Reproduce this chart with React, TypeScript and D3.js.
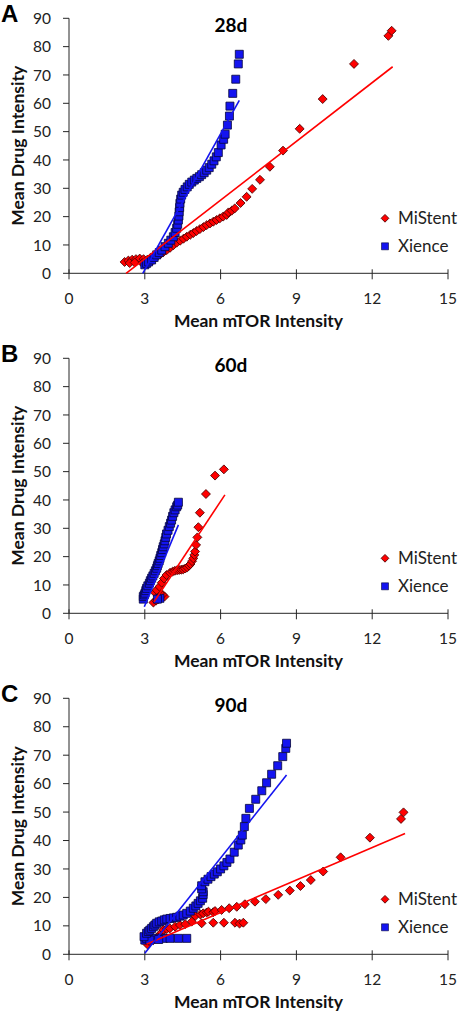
import React from 'react';
import * as d3 from 'd3';

// ---------- data ----------
const xTicks = [0, 3, 6, 9, 12, 15];
const yTicks = [0, 10, 20, 30, 40, 50, 60, 70, 80, 90];
const panelLetters = ['A', 'B', 'C'];
const panelTitles = ['28d', '60d', '90d'];
const seriesNames = ['MiStent', 'Xience'];
const xTitle = 'Mean mTOR Intensity';
const yTitle = 'Mean Drug Intensity';

type P = [number, number];

const mistent28d: P[] = [
  [2.2, 4.0], [2.35, 4.5], [2.5, 4.8], [2.65, 5.0], [2.8, 5.2], [2.95, 5.0], [3.1, 4.8], [3.2, 5.2],
  [3.3, 4.5], [2.4, 3.6], [2.6, 3.8], [2.9, 3.6], [3.3, 5.5], [3.4, 5.8], [3.47, 5.9], [3.6, 6.6],
  [3.73, 7.4], [3.87, 8.2], [4.0, 9.0], [4.13, 9.9], [4.26, 10.8], [4.4, 11.5], [4.53, 12.2],
  [4.66, 12.9], [4.8, 13.6], [4.92, 14.2], [5.05, 14.9], [5.18, 15.6], [5.32, 16.3], [5.45, 17.0],
  [5.58, 17.6], [5.71, 18.2], [5.84, 18.8], [5.97, 19.4], [6.1, 20.0], [6.24, 20.6], [6.31, 21.5],
  [6.44, 22.1], [6.56, 22.9], [6.79, 24.8], [7.03, 27.0], [7.25, 29.8], [7.56, 33.0], [7.95, 37.6],
  [8.47, 43.3], [9.13, 51.0], [10.04, 61.5], [11.28, 73.9], [12.64, 83.8], [12.77, 85.6],
];
const xience28d: P[] = [
  [3.0, 3.0], [3.07, 3.5], [3.15, 4.0], [3.27, 4.7], [3.37, 5.6], [3.47, 6.5], [3.57, 7.3], [3.67, 8.2],
  [3.8, 9.4], [3.93, 10.6], [4.03, 11.7], [4.13, 12.9], [4.2, 14.4], [4.26, 15.9], [4.3, 17.3],
  [4.33, 18.8], [4.35, 20.2], [4.36, 21.7], [4.38, 23.2], [4.39, 24.7], [4.42, 26.2], [4.46, 27.6],
  [4.52, 28.6], [4.59, 29.6], [4.68, 30.5], [4.76, 31.4], [4.86, 32.2], [4.96, 32.9], [5.06, 33.5],
  [5.16, 34.1], [5.25, 34.8], [5.35, 35.5], [5.45, 36.4], [5.55, 37.3], [5.65, 38.5], [5.74, 39.7],
  [5.83, 41.1], [5.91, 42.6], [6.02, 45.3], [6.12, 47.3], [6.18, 49.1], [6.27, 52.3], [6.35, 55.5],
  [6.37, 59.0], [6.48, 63.5], [6.6, 68.5], [6.7, 73.9], [6.74, 77.3],
];
const mistent28dFit: P[] = [[2.26, 0], [12.81, 72.9]];
const xience28dFit: P[] = [[2.92, 0], [6.74, 61.0]];

const mistent60d: P[] = [
  [3.34, 3.8], [3.45, 4.5], [3.55, 5.0], [3.67, 5.5], [3.78, 5.9], [3.7, 6.6], [3.6, 7.1], [3.5, 7.6],
  [3.4, 7.3], [3.47, 8.2], [3.58, 9.4], [3.67, 10.8], [3.76, 12.3], [3.86, 13.5], [4.0, 14.3],
  [4.1, 14.7], [4.19, 15.0], [4.28, 15.2], [4.36, 15.3], [4.44, 15.4], [4.52, 15.5], [4.6, 15.8],
  [4.68, 16.2], [4.75, 16.8], [4.81, 17.4], [4.87, 18.4], [4.92, 19.4], [4.96, 20.6], [4.99, 21.8],
  [5.03, 24.1], [5.08, 26.8], [5.12, 30.4], [5.18, 35.5], [5.42, 42.1], [5.78, 48.6], [6.13, 50.8],
];
const xience60d: P[] = [
  [3.6, 5.3], [3.5, 5.0], [2.94, 5.0], [2.94, 5.9], [2.98, 6.5], [3.01, 7.1], [3.04, 8.0], [3.07, 8.8],
  [3.12, 9.7], [3.18, 10.6], [3.22, 11.5], [3.27, 12.4], [3.32, 13.2], [3.37, 14.1], [3.42, 15.0],
  [3.47, 15.9], [3.5, 16.8], [3.53, 17.6], [3.57, 18.5], [3.6, 19.4], [3.63, 20.4], [3.67, 21.4],
  [3.7, 22.5], [3.73, 23.5], [3.77, 24.5], [3.8, 25.6], [3.83, 26.8], [3.86, 28.0], [3.92, 29.3],
  [3.97, 30.6], [4.02, 31.8], [4.06, 32.9], [4.1, 34.2], [4.15, 35.5], [4.2, 36.5], [4.26, 37.6],
  [4.3, 38.2], [4.33, 39.2],
];
const mistent60dFit: P[] = [[3.36, 4.0], [6.17, 41.8]];
const xience60dFit: P[] = [[2.98, 2.3], [4.33, 31.2]];

const mistent90d: P[] = [
  [3.1, 3.5], [3.2, 4.4], [3.34, 5.0], [3.47, 5.9], [3.6, 6.8], [3.67, 7.7], [3.73, 8.6], [3.87, 8.9],
  [3.99, 9.1], [4.2, 9.7], [4.39, 10.3], [4.6, 10.6], [4.86, 11.5], [5.25, 10.9], [5.71, 11.1],
  [6.13, 11.1], [6.57, 11.1], [6.75, 10.8], [6.9, 11.1], [5.0, 13.5], [5.2, 14.0], [5.31, 14.4],
  [5.45, 14.7], [5.52, 15.0], [5.71, 14.8], [5.78, 15.2], [6.04, 15.6], [6.34, 16.2], [6.64, 16.7],
  [6.96, 17.6], [7.36, 18.5], [7.79, 19.4], [8.28, 20.9], [8.74, 22.4], [9.16, 24.0], [9.57, 26.1],
  [10.06, 29.1], [10.75, 34.1], [11.91, 41.0], [13.14, 47.6], [13.24, 49.9],
];
const xience90d: P[] = [
  [3.0, 5.0], [3.07, 5.6], [3.4, 5.6], [3.73, 5.6], [4.0, 5.6], [4.33, 5.6], [4.66, 5.6], [3.2, 5.0],
  [3.55, 5.2], [2.97, 6.2], [3.07, 7.4], [3.14, 8.0], [3.2, 8.5], [3.27, 9.1], [3.34, 9.7], [3.4, 10.3],
  [3.47, 10.9], [3.57, 11.4], [3.67, 11.7], [3.77, 12.1], [3.87, 12.4], [4.0, 12.6], [4.13, 12.8],
  [4.26, 13.0], [4.39, 13.4], [4.52, 13.8], [4.66, 14.4], [4.8, 15.2], [4.92, 16.2], [5.02, 17.0],
  [5.11, 17.9], [5.2, 18.8], [5.29, 19.7], [5.31, 21.0], [5.31, 22.0], [5.25, 23.0], [5.25, 24.1],
  [5.38, 25.5], [5.5, 26.4], [5.62, 27.3], [5.75, 28.2], [5.87, 29.0], [6.0, 30.0], [6.13, 31.1],
  [6.25, 32.3], [6.37, 33.5], [6.54, 35.9], [6.7, 38.4], [6.8, 40.2], [6.86, 41.9], [6.94, 44.9],
  [7.0, 47.8], [7.14, 51.3], [7.39, 54.5], [7.63, 57.5], [7.82, 60.3], [8.02, 63.3], [8.26, 66.3],
  [8.46, 69.5], [8.58, 72.4], [8.61, 74.2],
];
const mistent90dFit: P[] = [[3.07, 3.5], [13.3, 42.5]];
const xience90dFit: P[] = [[3.0, 0.35], [8.61, 63.0]];

const mistentSets = [mistent28d, mistent60d, mistent90d];
const xienceSets = [xience28d, xience60d, xience90d];
const mistentFits = [mistent28dFit, mistent60dFit, mistent90dFit];
const xienceFits = [xience28dFit, xience60dFit, xience90dFit];

// ---------- layout / style ----------
const W = 459;
const H = 1015;
const PLOT_LEFT = 69;
const PLOT_RIGHT = 448;
const PANEL_TOPS = [18.3, 358.3, 698.3];
const PANEL_BOTTOMS = [273.3, 613.3, 954.3];
const FONT = 'Lato, "Open Sans", sans-serif';
const LETTER_FONT = '"Liberation Sans", Arial, sans-serif';
const RED = '#ff0000';
const RED_EDGE = '#4a0000';
const BLUE = '#1414f0';
const BLUE_EDGE = '#06063a';
const AXIS = '#262626';

const squarePath = d3.symbol().type(d3.symbolSquare).size(64)() as string;
const diamondPath = d3.symbol().type(d3.symbolSquare).size(40)() as string;

function Panel({ idx }: { idx: number }) {
  const top = PANEL_TOPS[idx];
  const bottom = PANEL_BOTTOMS[idx];
  const x = d3.scaleLinear().domain([0, 15]).range([PLOT_LEFT, PLOT_RIGHT]);
  const y = d3.scaleLinear().domain([0, 90]).range([bottom, top]);
  const line = d3.line<P>().x((d) => x(d[0])).y((d) => y(d[1]));
  const midY = (top + bottom) / 2;
  const midX = (PLOT_LEFT + PLOT_RIGHT) / 2;

  return (
    <g>
      {/* panel letter */}
      <text x={1} y={top + 3.6} fontFamily={LETTER_FONT} fontWeight={700} fontSize={24} fill="#000">
        {panelLetters[idx]}
      </text>
      {/* title */}
      <text x={231} y={top + 13.5} textAnchor="middle" fontFamily={FONT} fontWeight={700} fontSize={19} fill="#000">
        {panelTitles[idx]}
      </text>
      {/* y axis */}
      <line x1={PLOT_LEFT} x2={PLOT_LEFT} y1={top} y2={bottom} stroke={AXIS} strokeWidth={1} />
      {yTicks.map((t) => (
        <g key={'y' + t}>
          <line x1={PLOT_LEFT - 6} x2={PLOT_LEFT} y1={y(t)} y2={y(t)} stroke={AXIS} strokeWidth={1} />
          <text x={51} y={y(t)} dy="0.36em" textAnchor="end" fontFamily={FONT} fontSize={15.5} fill="#222">
            {t}
          </text>
        </g>
      ))}
      {/* x axis */}
      <line x1={PLOT_LEFT} x2={PLOT_RIGHT} y1={bottom} y2={bottom} stroke={AXIS} strokeWidth={1} />
      {xTicks.map((t) => (
        <g key={'x' + t}>
          <line x1={x(t)} x2={x(t)} y1={bottom - 4} y2={bottom + 6} stroke={AXIS} strokeWidth={1} />
          <text x={x(t)} y={bottom + 31} textAnchor="middle" fontFamily={FONT} fontSize={15.5} fill="#222">
            {t}
          </text>
        </g>
      ))}
      {/* axis titles */}
      <text x={midX} y={bottom + 54} textAnchor="middle" fontFamily={FONT} fontWeight={700} fontSize={17.5} fill="#111">
        {xTitle}
      </text>
      <text
        transform={`translate(24,${midY}) rotate(-90)`}
        textAnchor="middle"
        fontFamily={FONT}
        fontWeight={700}
        fontSize={17.5}
        fill="#111"
      >
        {yTitle}
      </text>
      {/* markers */}
      {mistentSets[idx].map((d, i) => (
        <path
          key={'m' + i}
          d={diamondPath}
          transform={`translate(${x(d[0])},${y(d[1])}) rotate(45)`}
          fill={RED}
          stroke={RED_EDGE}
          strokeWidth={0.8}
        />
      ))}
      {xienceSets[idx].map((d, i) => (
        <path
          key={'x' + i}
          d={squarePath}
          transform={`translate(${x(d[0])},${y(d[1])})`}
          fill={BLUE}
          stroke={BLUE_EDGE}
          strokeWidth={0.8}
        />
      ))}
      {/* trend lines */}
      <path d={line(mistentFits[idx]) as string} fill="none" stroke={RED} strokeWidth={1.6} />
      <path d={line(xienceFits[idx]) as string} fill="none" stroke={BLUE} strokeWidth={1.6} />
      {/* legend */}
      <path
        d={d3.symbol().type(d3.symbolSquare).size(30)() as string}
        transform={`translate(385,${bottom - 55}) rotate(45)`}
        fill={RED}
        stroke={RED_EDGE}
        strokeWidth={0.8}
      />
      <text x={398} y={bottom - 55} dy="0.36em" fontFamily={FONT} fontSize={17} fill="#222">
        {seriesNames[0]}
      </text>
      <path
        d={d3.symbol().type(d3.symbolSquare).size(49)() as string}
        transform={`translate(385,${bottom - 27})`}
        fill={BLUE}
        stroke={BLUE_EDGE}
        strokeWidth={0.6}
      />
      <text x={398} y={bottom - 27} dy="0.36em" fontFamily={FONT} fontSize={17} fill="#222">
        {seriesNames[1]}
      </text>
    </g>
  );
}

export default function App() {
  return (
    <svg
      width={W}
      height={H}
      viewBox={`0 0 ${W} ${H}`}
      style={{ position: 'absolute', left: 0, top: 0, display: 'block', background: '#fff' }}
    >
      <rect width={W} height={H} fill="#fff" />
      {[0, 1, 2].map((i) => (
        <Panel key={i} idx={i} />
      ))}
    </svg>
  );
}
